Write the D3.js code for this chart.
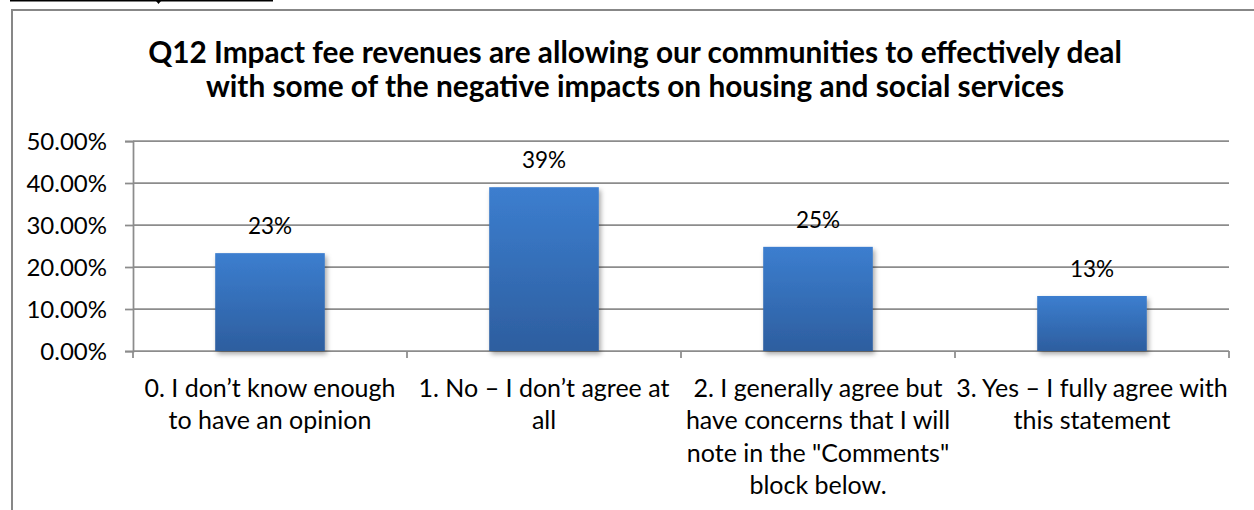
<!DOCTYPE html>
<html>
<head>
<meta charset="utf-8">
<script src="https://cdn.jsdelivr.net/npm/d3@7"></script>
<style>
  html, body { margin: 0; padding: 0; background: #fff; }
  svg { display: block; }
  text { font-family: Lato, "Open Sans", sans-serif; fill: #000; }
</style>
</head>
<body>
<svg id="chart" width="1254" height="510"></svg>
<script>
// Survey responses, Q12
const titleLines = [
  "Q12 Impact fee revenues are allowing our communities to effectively deal",
  "with some of the negative impacts on housing and social services"
];
const categories = [
  "0. I don’t know enough to have an opinion",
  "1. No – I don’t agree at all",
  "2. I generally agree but have concerns that I will note in the \"Comments\" block below.",
  "3. Yes – I fully agree with this statement"
];
const categoryLines = [
  ["0. I don’t know enough", "to have an opinion"],
  ["1. No – I don’t agree at", "all"],
  ["2. I generally agree but", "have concerns that I will", "note in the \"Comments\"", "block below."],
  ["3. Yes – I fully agree with", "this statement"]
];
const shares = [0.233, 0.39, 0.248, 0.131];
const yTicks = [0, 0.1, 0.2, 0.3, 0.4, 0.5];

const svg = d3.select("#chart");
const W = 1254, H = 510;
const plot = { left: 133, right: 1229, top: 141, bottom: 351 };

// gradient + shadow for the bars
const defs = svg.append("defs");
const grad = defs.append("linearGradient")
  .attr("id", "barFill").attr("x1", 0).attr("y1", 0).attr("x2", 0).attr("y2", 1);
grad.append("stop").attr("offset", "0%").attr("stop-color", "#3c7ecf");
grad.append("stop").attr("offset", "100%").attr("stop-color", "#2d5e9f");
const shadow = defs.append("filter").attr("id", "barShadow")
  .attr("x", "-20%").attr("y", "-20%").attr("width", "140%").attr("height", "140%");
shadow.append("feDropShadow")
  .attr("dx", 2).attr("dy", 3).attr("stdDeviation", 2.5)
  .attr("flood-color", "#000").attr("flood-opacity", 0.35);

// page fragment above the chart: underline stub
svg.append("line")
  .attr("x1", 10).attr("x2", 273).attr("y1", 0.75).attr("y2", 0.75)
  .attr("stroke", "#000").attr("stroke-width", 1.5);
svg.append("path")
  .attr("d", "M156,1 L161,1 L158.5,4 Z").attr("fill", "#000");

// chart frame
svg.append("path")
  .attr("d", `M12,${H} L12,10 L${W},10`)
  .attr("fill", "none").attr("stroke", "#878787").attr("stroke-width", 2);

// scales
const x = d3.scaleBand().domain(categories).range([plot.left, plot.right]).padding(0);
const y = d3.scaleLinear().domain([0, 0.5]).range([plot.bottom, plot.top]);

// horizontal gridlines
svg.append("g").selectAll("line").data(yTicks).join("line")
  .attr("x1", plot.left).attr("x2", plot.right)
  .attr("y1", d => y(d)).attr("y2", d => y(d))
  .attr("stroke", "#8c8c8c").attr("stroke-width", 1.75);

// y axis
const yAxis = svg.append("g")
  .attr("transform", `translate(${plot.left},0)`)
  .call(d3.axisLeft(y).tickValues(yTicks).tickFormat(d3.format(".2%")).tickSize(8).tickPadding(18));
yAxis.select(".domain").attr("stroke", "#8c8c8c").attr("stroke-width", 1.75);
yAxis.selectAll(".tick line").attr("stroke", "#8c8c8c").attr("stroke-width", 1.75);
yAxis.selectAll(".tick text")
  .attr("font-family", "Lato, 'Open Sans', sans-serif")
  .attr("font-size", 24).attr("fill", "#000").attr("dy", "0.36em");

// x axis ticks at category boundaries
const bounds = categories.map(c => x(c)).concat([x(categories[categories.length - 1]) + x.bandwidth()]);
svg.append("g").selectAll("line").data(bounds).join("line")
  .attr("x1", d => d).attr("x2", d => d)
  .attr("y1", plot.bottom).attr("y2", plot.bottom + 7)
  .attr("stroke", "#8c8c8c").attr("stroke-width", 1.75);

// bars
const barW = x.bandwidth() * 0.4;
svg.append("g").selectAll("rect").data(categories).join("rect")
  .attr("x", c => x(c) + (x.bandwidth() - barW) / 2)
  .attr("width", barW)
  .attr("y", (c, i) => y(shares[i]))
  .attr("height", (c, i) => y(0) - y(shares[i]))
  .attr("fill", "url(#barFill)")
  .attr("filter", "url(#barShadow)");

// value labels
svg.append("g").selectAll("text").data(categories).join("text")
  .attr("x", c => x(c) + x.bandwidth() / 2)
  .attr("y", (c, i) => y(shares[i]) - 19)
  .attr("text-anchor", "middle")
  .attr("font-size", 22.5)
  .text((c, i) => d3.format(".0%")(shares[i]));

// category labels
const catG = svg.append("g").selectAll("text").data(categories).join("text")
  .attr("text-anchor", "middle")
  .attr("font-size", 25);
catG.selectAll("tspan").data((c, i) => categoryLines[i].map(t => ({ c, t }))).join("tspan")
  .attr("x", d => x(d.c) + x.bandwidth() / 2)
  .attr("y", (d, j) => 397 + j * 32.3)
  .text(d => d.t);

// title
svg.append("g").selectAll("text").data(titleLines).join("text")
  .attr("x", 635).attr("y", (d, i) => 63 + i * 34)
  .attr("text-anchor", "middle")
  .attr("font-weight", "bold")
  .attr("font-size", 29.8)
  .text(d => d);
</script>
</body>
</html>
